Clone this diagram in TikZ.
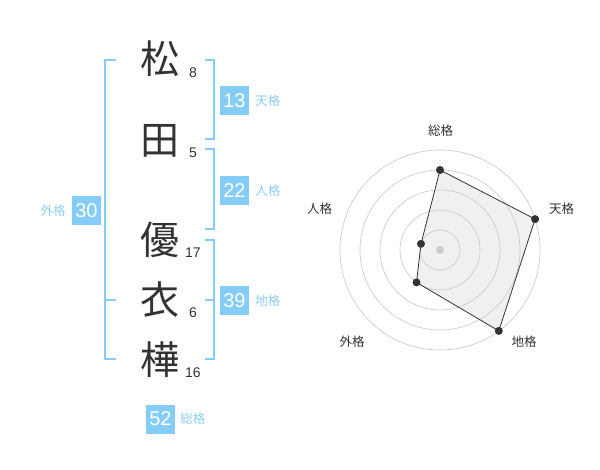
\documentclass[tikz,border=0pt]{standalone}
\usepackage{fontspec}
\usetikzlibrary{calc}
\setmainfont{Liberation Sans}
\newfontfamily\cjk{Noto Sans CJK JP}
\definecolor{kblue}{HTML}{85CCF8}
\definecolor{klab}{HTML}{8CCFF5}
\definecolor{kdark}{HTML}{333333}
\definecolor{kring}{HTML}{CCCCCC}
\definecolor{kfill}{HTML}{F0F0F0}
\tikzset{
  kanji/.style={font=\cjk\fontsize{39}{39}\selectfont, text=kdark, inner sep=0pt},
  strokes/.style={font=\fontsize{14}{14}\selectfont, text=kdark, inner sep=0pt},
  numbox/.style={fill=kblue, text=white, minimum width=29pt, minimum height=29pt, inner sep=0pt, font=\fontsize{20}{20}\selectfont},
  kaku/.style={font=\cjk\fontsize{12.5}{12.5}\selectfont, text=klab, inner sep=0pt},
  bracket/.style={draw=kblue, line width=1.5pt},
  ring/.style={draw=kring, line width=0.7pt},
  rlab/.style={font=\cjk\fontsize{12.5}{12.5}\selectfont, text=kdark, inner sep=0pt},
  rdot/.style={circle, fill=kdark, minimum size=8pt, inner sep=0pt},
}
\begin{document}
\begin{tikzpicture}[x=1pt,y=-1pt]
\useasboundingbox (0,0) rectangle (600,470);
% kanji
\node[kanji] (k1) at (160,59) {松};
\node[kanji] (k2) at (160,141) {田};
\node[kanji] (k3) at (160,240) {優};
\node[kanji] (k4) at (160,300) {衣};
\node[kanji] (k5) at (160,360) {樺};
\node[strokes] (s1) at (193,73) {8};
\node[strokes] (s2) at (193,153) {5};
\node[strokes] (s3) at (193,253) {17};
\node[strokes] (s4) at (193,313) {6};
\node[strokes] (s5) at (193,373) {16};
% brackets
\coordinate (a1) at (205,60); \coordinate (a2) at (214,60);
\coordinate (a3) at (214,139); \coordinate (a4) at (205,139);
\draw[bracket] (a1) -- (a2) -- (a3) -- (a4);
\coordinate (b1) at (205,149); \coordinate (b2) at (214,149);
\coordinate (b3) at (214,229); \coordinate (b4) at (205,229);
\draw[bracket] (b1) -- (b2) -- (b3) -- (b4);
\coordinate (c1) at (205,240); \coordinate (c2) at (214,240);
\coordinate (c3) at (214,359); \coordinate (c4) at (205,359);
\coordinate (c5) at (214,300); \coordinate (c6) at (205,300);
\draw[bracket] (c1) -- (c2) -- (c3) -- (c4);
\draw[bracket] (c5) -- (c6);
\coordinate (d1) at (116,60); \coordinate (d2) at (105,60);
\coordinate (d3) at (105,359); \coordinate (d4) at (116,359);
\coordinate (d5) at (105,300); \coordinate (d6) at (116,300);
\draw[bracket] (d1) -- (d2) -- (d3) -- (d4);
\draw[bracket] (d5) -- (d6);
% boxes
\node[numbox] (ten) at (234.5,100.5) {13};
\node[kaku, anchor=west] (tenl) at ([xshift=6pt]ten.east) {天格};
\node[numbox] (jin) at (234.5,190.5) {22};
\node[kaku, anchor=west] (jinl) at ([xshift=6pt]jin.east) {人格};
\node[numbox] (chi) at (234.5,300.5) {39};
\node[kaku, anchor=west] (chil) at ([xshift=6pt]chi.east) {地格};
\node[numbox] (gai) at (86.5,210.5) {30};
\node[kaku, anchor=east] (gail) at ([xshift=-6pt]gai.west) {外格};
\node[numbox] (sou) at (160.5,419) {52};
\node[kaku, anchor=west] (soul) at ([xshift=5pt]sou.east) {総格};
% radar
\coordinate (O) at (440,250);
\coordinate (p1) at ($(O)+(0,-80)$);
\coordinate (p2) at ($(O)+(95.1,-30.9)$);
\coordinate (p3) at ($(O)+(58.8,80.9)$);
\coordinate (p4) at ($(O)+(-23.5,32.4)$);
\coordinate (p5) at ($(O)+(-19.0,-6.2)$);
\fill[kfill] (p1) -- (p2) -- (p3) -- (p4) -- (p5) -- cycle;
\foreach \r in {20,40,60,80,100} \draw[ring] (O) circle[radius=\r];
\draw[draw=kdark, line width=0.8pt, line join=round] (p1) -- (p2) -- (p3) -- (p4) -- (p5) -- cycle;
\node[circle, fill=kring, minimum size=8pt, inner sep=0pt] (ctr) at (O) {};
\foreach \p in {p1,p2,p3,p4,p5} \node[rdot] (d\p) at (\p) {};
\node[rlab] (l1) at (440.5,131) {総格};
\node[rlab] (l2) at (561.5,209) {天格};
\node[rlab] (l3) at (524,342) {地格};
\node[rlab] (l4) at (352,342) {外格};
\node[rlab] (l5) at (319.5,209) {人格};
\end{tikzpicture}
\end{document}
